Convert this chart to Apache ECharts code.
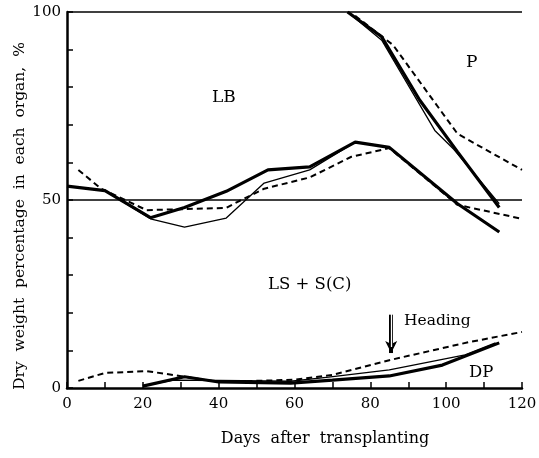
<!doctype html>
<html>
<head>
<meta charset="utf-8">
<script src="https://cdn.jsdelivr.net/npm/echarts@6/dist/echarts.min.js"></script>
<style>
  html, body { margin: 0; padding: 0; background: #fff; }
  #main { width: 539px; height: 458px; }
</style>
</head>
<body>
<div id="main"></div>
<script>
var chart = echarts.init(document.getElementById('main'));

// [day, %]
// LB / LS+S(C) boundary
var midThick = [[0, 53.7], [10, 52.5], [22, 45.3], [31, 48], [42, 52.3], [53, 58], [64, 58.8], [76, 65.4], [85, 64], [103, 49], [114, 41.5]];
var midThin = [[0, 53.7], [10, 52.5], [22, 45], [31, 42.8], [42, 45.2], [52, 54.5], [64, 58], [76, 65.4], [85, 64], [103, 49], [114, 41.5]];
var midDash = [[3, 58], [9, 53], [21, 47.3], [42, 47.9], [44, 49], [52, 53], [64, 56], [75, 61.5], [85, 63.8], [103, 48.7], [120, 45]];

// P / LB boundary
var topThick = [[74, 100], [83, 93.4], [93, 76.6], [103, 62.8], [114, 48]];
var topThin = [[74, 100], [83, 92.5], [97, 68.5], [102, 63.5], [114, 49]];
var topDash = [[76, 99], [86, 91.2], [103, 67.6], [120, 58]];

// DP
var lowThick = [[20, 0.5], [31, 3], [40, 1.6], [59, 1.3], [70, 2.1], [85, 3.2], [99, 6.1], [114, 12]];
var lowThin = [[20, 0.5], [28, 2.1], [40, 2], [59, 1.8], [69, 2.9], [85, 4.8], [105, 8.8], [113, 12]];
var lowDash = [[3, 1.9], [10, 4], [21, 4.5], [31, 3], [40, 1.6], [60, 2.2], [70, 3.5], [85, 7.4], [106, 12.2], [120, 14.9]];

var refLines = [50, 100];
var heading = { day: 85.5, from: 19.5, to: 9.3 };

var xLabels = [0, 20, 40, 60, 80, 100, 120];
var yLabels = [0, 50, 100];

var serif = 'DejaVu Serif';

function thick(d) {
    return { type: 'line', data: d, symbol: 'none', silent: true, lineStyle: { color: '#000', width: 3.2 } };
}
function thin(d) {
    return { type: 'line', data: d, symbol: 'none', silent: true, lineStyle: { color: '#000', width: 1.3 } };
}
function dash(d) {
    return { type: 'line', data: d, symbol: 'none', silent: true, lineStyle: { color: '#000', width: 2, type: [6, 4] } };
}

var series = [
    thin(midThin), dash(midDash), thick(midThick),
    thin(topThin), dash(topDash), thick(topThick),
    thin(lowThin), dash(lowDash), thick(lowThick)
];

// reference lines at 50 and 100
series.push({
    type: 'line', data: [], silent: true,
    markLine: {
        silent: true, symbol: 'none', label: { show: false },
        lineStyle: { color: '#000', width: 1.5, type: 'solid' },
        data: refLines.map(function (v) { return { yAxis: v }; })
    }
});

// heading arrow (double shaft)
series.push({
    type: 'line', data: [], silent: true, z: 5,
    markLine: {
        silent: true, symbol: ['none', 'arrow'], symbolSize: [9, 12],
        label: { show: false },
        lineStyle: { color: '#000', width: 4, type: 'solid' },
        data: [[{ coord: [heading.day, heading.from] }, { coord: [heading.day, heading.to] }]]
    }
});
series.push({
    type: 'line', data: [], silent: true, z: 6,
    markLine: {
        silent: true, symbol: 'none',
        label: { show: false },
        lineStyle: { color: '#fff', width: 1.3, type: 'solid' },
        data: [[{ coord: [heading.day, heading.from + 0.3] }, { coord: [heading.day, heading.to + 1.6] }]]
    }
});

function txt(x, y, s, size, rot) {
    return {
        type: 'text', x: x, y: y, rotation: rot || 0, silent: true,
        style: { text: s, font: size + 'px "DejaVu Serif"', fill: '#000', align: 'left', verticalAlign: 'middle' }
    };
}

chart.setOption({
    animation: false,
    grid: { left: 67, right: 17, top: 12, bottom: 70, outerBoundsMode: 'none' },
    xAxis: {
        type: 'value', min: 0, max: 120, interval: 10,
        axisLine: { lineStyle: { color: '#000', width: 2.5 } },
        axisTick: { inside: true, length: 6, lineStyle: { color: '#000', width: 1.5 } },
        axisLabel: {
            fontFamily: serif, fontSize: 15, color: '#000', margin: 9,
            formatter: function (v) { return xLabels.indexOf(v) >= 0 ? String(v) : ''; }
        },
        splitLine: { show: false }
    },
    yAxis: {
        type: 'value', min: 0, max: 100, interval: 10,
        axisLine: { show: true, lineStyle: { color: '#000', width: 2.5 } },
        axisTick: { inside: true, length: 6, lineStyle: { color: '#000', width: 1.5 } },
        axisLabel: {
            fontFamily: serif, fontSize: 15, color: '#000', margin: 6,
            formatter: function (v) { return yLabels.indexOf(v) >= 0 ? String(v) : ''; }
        },
        splitLine: { show: false }
    },
    graphic: [
        {
            type: 'text', x: 20, y: 216, rotation: Math.PI / 2, silent: true,
            style: { text: 'Dry  weight  percentage  in  each  organ,  %', font: '15.5px "DejaVu Serif"', fill: '#000', align: 'center', verticalAlign: 'middle' }
        },
        {
            type: 'text', x: 325, y: 439, silent: true,
            style: { text: 'Days  after  transplanting', font: '16px "DejaVu Serif"', fill: '#000', align: 'center', verticalAlign: 'middle' }
        },
        txt(212, 98, 'LB', 17),
        txt(466, 63, 'P', 17),
        txt(268, 285, 'LS + S(C)', 16.5),
        txt(469, 373, 'DP', 16.5),
        txt(404, 321, 'Heading', 15.5)
    ],
    series: series
});
</script>
</body>
</html>
